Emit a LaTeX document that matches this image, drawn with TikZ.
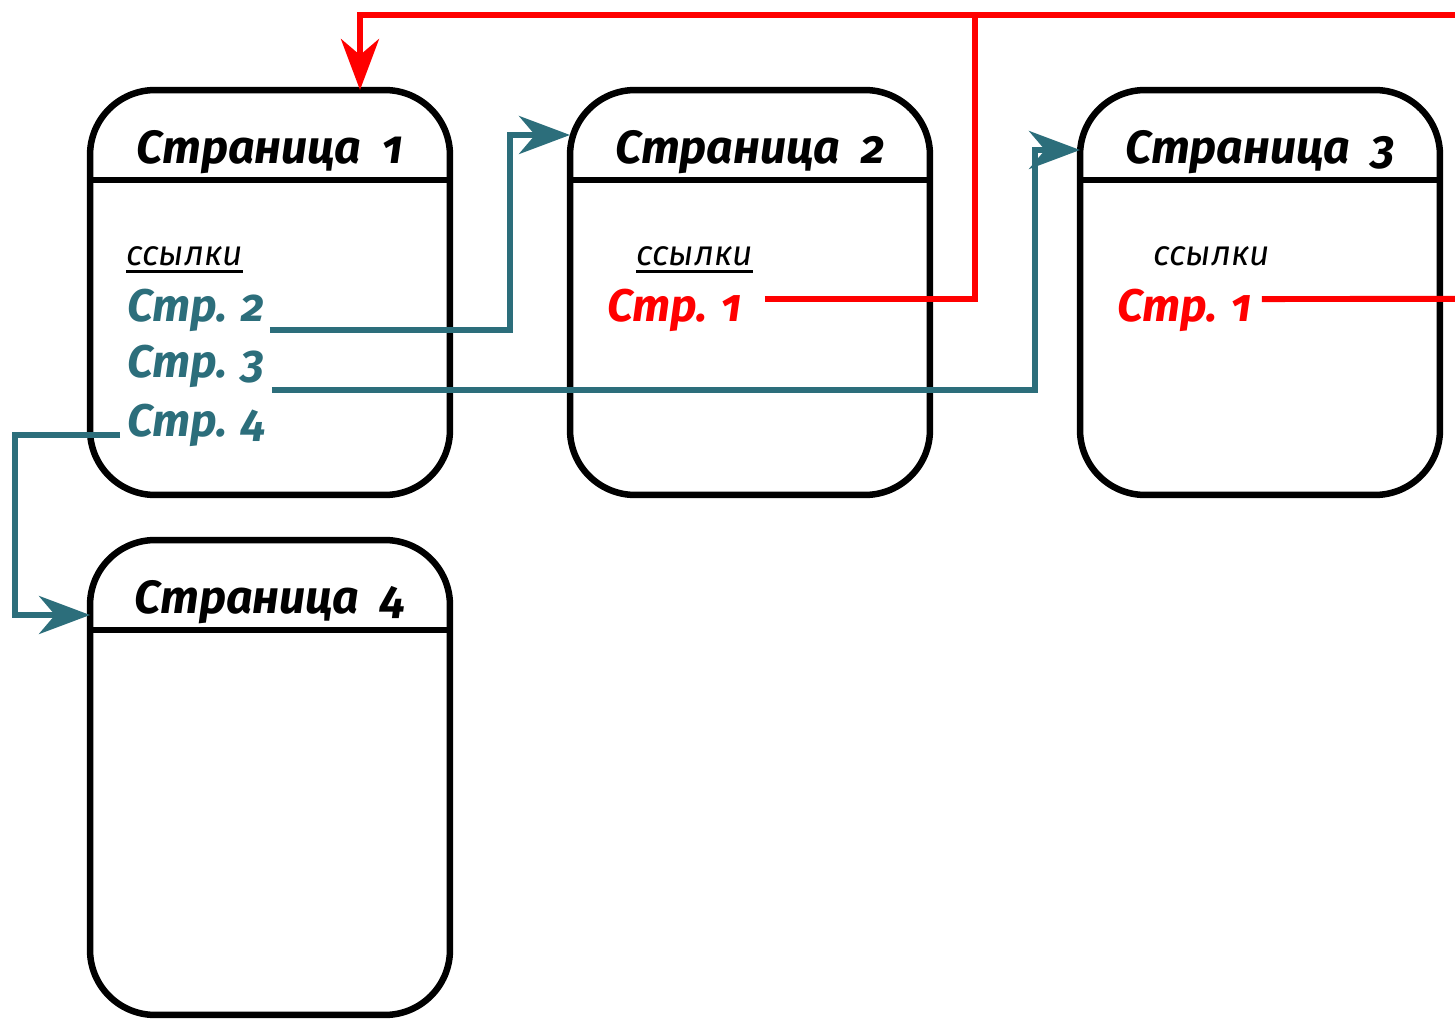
\documentclass[tikz,border=0pt]{standalone}
\usepackage{fontspec}
\setmainfont{Fira Sans}[Numbers=OldStyle]
\usetikzlibrary{arrows.meta,calc,positioning}
\definecolor{linkteal}{HTML}{2C6E7B}
\definecolor{linkred}{HTML}{FF0000}
\tikzset{
	page/.style={draw, line width=0.13cm, rounded corners=1.3cm, outer sep=0,
		minimum width=7.2cm, minimum height=8.1cm, inner sep=0},
	pagetitle/.style={font=\fontsize{26.5}{30}\selectfont\itshape\bfseries, anchor=base},
	refs/.style={font=\fontsize{20}{22}\selectfont\itshape, anchor=base west, inner sep=0},
	pagelink/.style={font=\fontsize{26}{28}\selectfont\itshape\bfseries, anchor=base west, inner sep=0},
	linktip/.tip={Stealth[length=1.02cm,width=0.76cm,inset=0.32cm]},
	tealline/.style={draw=linkteal, line width=0.12cm},
	redline/.style={draw=linkred, line width=0.12cm},
}
\newcommand\headrule[1]{%
	\draw[line width=0.13cm] ([yshift=-1.8cm]#1.north west) -- ([yshift=-1.8cm]#1.north east);}
\begin{document}
\begin{tikzpicture}[x=0.02cm, y=-0.02cm]
	\useasboundingbox (0,0) rectangle (1455,1020);
	% pages
	\node[page] (page1) at (270,292.5) {};
	\node[page] (page2) at (750,292.5) {};
	\node[page] (page3) at (1260,292.5) {};
	\node[page, minimum height=9.5cm] (page4) at (270,777.5) {};
	\headrule{page1} \headrule{page2} \headrule{page3} \headrule{page4}
	\node[pagetitle] (t1) at ([yshift=-1.46cm]page1.north) {Страница~~1};
	\node[pagetitle] (t2) at ([yshift=-1.46cm]page2.north) {Страница~~2};
	\node[pagetitle] (t3) at ([yshift=-1.46cm]page3.north) {Страница~~3};
	\node[pagetitle] (t4) at ([yshift=-1.46cm]page4.north) {Страница~~4};
	% links
	\node[refs] (s1) at (126,266) {ссылки};
	\node[refs] (s2) at (636,266) {ссылки};
	\node[refs] (s3) at (1153,266) {ссылки};
	\draw[line width=1.8pt] ([yshift=-3pt]s1.base west) -- ([yshift=-3pt]s1.base east);
	\draw[line width=1.8pt] ([yshift=-3pt]s2.base west) -- ([yshift=-3pt]s2.base east);
	\node[pagelink, text=linkteal] (l2) at (127,322) {Стр. 2};
	\node[pagelink, text=linkteal] (l3) at (127,378) {Стр. 3};
	\node[pagelink, text=linkteal] (l4) at (127,437) {Стр. 4};
	\node[pagelink, text=linkred] (r2) at (607,322) {Стр. 1};
	\node[pagelink, text=linkred] (r3) at (1117,322) {Стр. 1};
	% bends
	\coordinate (j2) at (510,135);
	\coordinate (j3) at (1035,150);
	\coordinate (j4) at (15,615);
	\coordinate (rj) at (975,15);
	\coordinate (rtop) at (360,15);
	\coordinate (redin) at (1455,15);
	\coordinate (redout) at (1455,299);
	%
	\draw[tealline, -linktip] ([xshift=0.1cm, yshift=-0.16cm]l2.base east) -| (j2) -- (j2 -| page2.west);
	\draw[tealline, -linktip] ([xshift=0.14cm, yshift=-0.24cm]l3.base east) -| (j3) -- (j3 -| page3.west);
	\draw[tealline, -linktip] ([xshift=-0.14cm, yshift=0.04cm]l4.base west) -| (j4) -- (j4 -| page4.west);
	\draw[redline] ([xshift=0.46cm, yshift=0.46cm]r2.base east) -| (rj);
	\draw[redline, -linktip] (redin) -- (rtop) -- (rtop |- page1.north);
	\draw[redline] ([xshift=0.2cm, yshift=0.46cm]r3.base east) -- (redout);
\end{tikzpicture}
\end{document}
